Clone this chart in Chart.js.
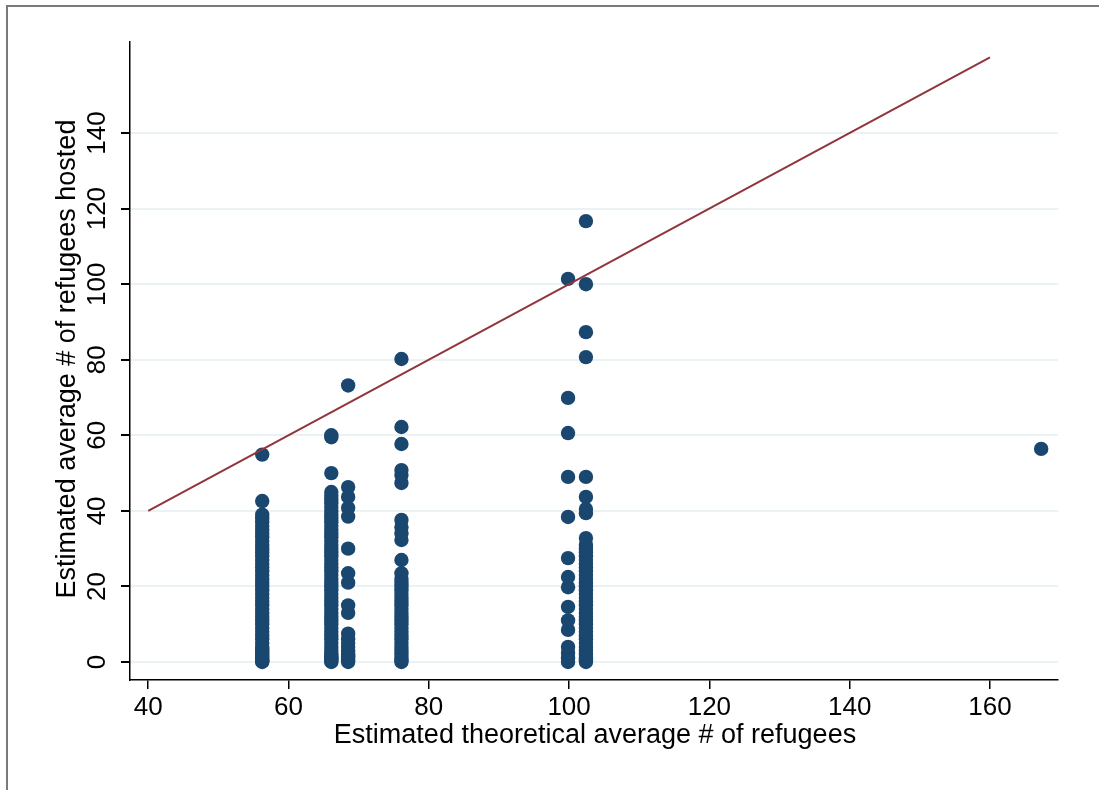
<!DOCTYPE html>
<html>
<head>
<meta charset="utf-8">
<script src="https://cdn.jsdelivr.net/npm/chart.js@4/dist/chart.umd.min.js"></script>
<style>
html,body{margin:0;padding:0;background:#fff;}
#wrap{width:1099px;height:790px;}
</style>
</head>
<body>
<div id="wrap"><canvas id="c" width="1099" height="790"></canvas></div>
<script>
// ---- data ----
const xTitle = "Estimated theoretical average # of refugees";
const yTitle = "Estimated average # of refugees hosted";
const xTicks = [40, 60, 80, 100, 120, 140, 160];
const yTicks = [0, 20, 40, 60, 80, 100, 120, 140];
const clusterX = [56.25, 66.1, 68.5, 76.1, 99.85, 102.4, 167.3];
const y56 = [0,0.2,0.5,0.8,1.2,1.6,2,2.5,3,3.5,4,5,6,7,8,9,10,11,12,13,14,15,16,17,18,19,20,21,22,23,24,25,26,27,28,29,30,31,32,33,34,35,36,37,38,39,42.6,54.9];
const y66 = [0,0.3,0.7,1,1.5,2,3,4,5,6,7,8,9,10,11,12,13,14,15,16,17,18,19,20,21,22,23,24,25,26,27,28,29,30,31,32,33,34,35,36,37,38,39,40,41,42,43,44,45,50,59.5,60];
const y68 = [0,0.5,1,1.5,2,3,4,5,6,7.5,13,15,21,23.5,30,38.5,40.8,43.7,46.3,73.2];
const y76 = [0,0.5,1,2,3,4,5,6,7,8,9,10,11,12,13,14,15,16,17,18,19,20,21,22,23.5,27,32.3,34,35.7,37.6,47.4,49.5,50.8,57.7,62.2,80.2];
const y100 = [0,1,2.4,4,8.5,11,14.6,19.8,22.5,27.5,38.4,49,60.6,69.9,101.4];
const y102 = [0,0.5,1,2,3,4,5,6,7,8,9,10,11,12,13,14,15,16,17,18,19,20,21,22,23,24,25,26,27,28,29,30,31,32.8,39.4,40.5,43.7,49,80.7,87.3,100,116.7];
const y167 = [56.4];
const lineX = [40, 160];
const lineY = [40, 160];

const clusterY = [y56, y66, y68, y76, y100, y102, y167];
const points = [];
clusterY.forEach((arr, i) => arr.forEach(v => points.push({x: clusterX[i], y: v})));
const linePts = lineX.map((x, i) => ({x: x, y: lineY[i]}));

const FONT = '"Liberation Sans", Arial, Helvetica, sans-serif';

const decor = {
  id: 'decor',
  beforeDraw(chart) {
    const ctx = chart.ctx;
    ctx.save();
    ctx.fillStyle = '#fff';
    ctx.fillRect(0, 0, chart.width, chart.height);
    ctx.strokeStyle = '#7a7a7a';
    ctx.lineWidth = 2;
    ctx.beginPath();
    ctx.moveTo(7, chart.height);
    ctx.lineTo(7, 6);
    ctx.lineTo(chart.width, 6);
    ctx.stroke();
    ctx.restore();
  },
  afterDraw(chart) {
    const ctx = chart.ctx;
    const ys = chart.scales.y;
    const ca = chart.chartArea;
    ctx.save();
    ctx.fillStyle = '#000';
    ctx.font = '26px ' + FONT;
    ctx.textAlign = 'center';
    ctx.textBaseline = 'middle';
    yTicks.forEach(v => {
      const py = ys.getPixelForValue(v);
      ctx.save();
      ctx.translate(98, py);
      ctx.rotate(-Math.PI / 2);
      ctx.fillText(String(v), 0, 0);
      ctx.restore();
    });
    ctx.font = '27px ' + FONT;
    ctx.save();
    ctx.translate(68, (ca.top + ca.bottom) / 2 - 2);
    ctx.rotate(-Math.PI / 2);
    ctx.fillText(yTitle, 0, 0);
    ctx.restore();
    ctx.fillText(xTitle, (ca.left + ca.right) / 2 + 1, 736);
    ctx.restore();
  }
};

new Chart(document.getElementById('c'), {
  type: 'scatter',
  data: {
    datasets: [
      {
        type: 'line',
        data: linePts,
        borderColor: '#90353b',
        borderWidth: 2,
        pointRadius: 0,
        fill: false,
        order: 0
      },
      {
        data: points,
        backgroundColor: '#1a476f',
        borderColor: '#1a476f',
        borderWidth: 0,
        pointRadius: 7.2,
        pointHoverRadius: 7.2,
        order: 1
      }
    ]
  },
  options: {
    responsive: false,
    devicePixelRatio: 1,
    animation: false,
    events: [],
    layout: { padding: { left: 0, top: 42, right: 41, bottom: 0 } },
    plugins: { legend: { display: false }, tooltip: { enabled: false } },
    scales: {
      x: {
        type: 'linear',
        min: 37.4,
        max: 169.7,
        afterBuildTicks: s => { s.ticks = xTicks.map(v => ({value: v})); },
        afterFit: s => { s.height = 110; },
        grid: { drawOnChartArea: false, color: '#000', tickColor: '#000', tickLength: 9, lineWidth: 1.5 },
        border: { color: '#000', width: 1.5 },
        ticks: { color: '#000', font: { size: 26, family: FONT }, padding: 3, maxRotation: 0, minRotation: 0 }
      },
      y: {
        type: 'linear',
        min: -4.76,
        max: 164.1,
        afterBuildTicks: s => { s.ticks = yTicks.map(v => ({value: v})); },
        afterFit: s => { s.width = 130; },
        grid: { color: '#eaf2f3', lineWidth: 2, tickColor: '#000', tickLength: 9 },
        border: { color: '#000', width: 1.5 },
        ticks: { display: false }
      }
    }
  },
  plugins: [decor]
});
</script>
</body>
</html>
